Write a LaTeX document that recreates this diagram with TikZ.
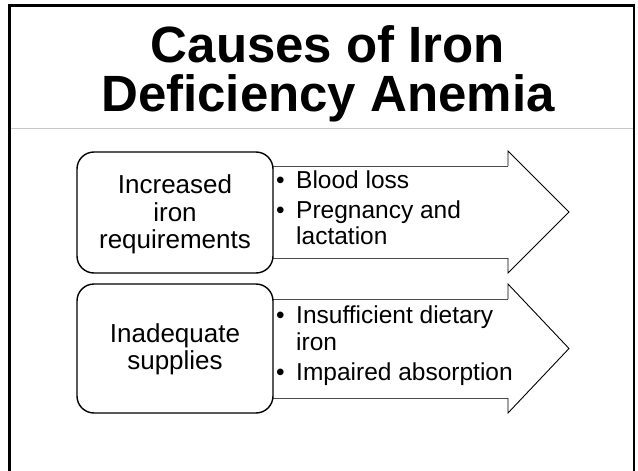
\documentclass[tikz,border=0pt]{standalone}
\usepackage{fontspec}
\setmainfont{Liberation Sans}
\begin{document}
\begin{tikzpicture}[x=1pt,y=-1pt,
  framesty/.style={line width=2.6pt},
  seprule/.style={draw=black!22, line width=1pt},
  boxsty/.style={draw, line width=1.4pt, fill=white, rounded corners=17pt, inner sep=0pt},
  arrowfill/.style={fill=white},
  arrowbody/.style={draw=black!70, line width=0.9pt},
  arrowhead/.style={draw=black, line width=0.9pt, line join=miter},
  titlesty/.style={font=\fontsize{51}{49}\selectfont\bfseries, anchor=base, inner sep=0pt},
  boxtext/.style={font=\fontsize{26}{27}\selectfont, anchor=base, inner sep=0pt},
  bullettext/.style={font=\fontsize{24.5}{26}\selectfont, anchor=base west, inner sep=0pt},
]
\useasboundingbox (0,0) rectangle (638,471);
% frame and separator
\draw[framesty] (9.5,480) -- (9.5,5.5) -- (634,5.5) -- (634,480);
\draw[seprule] (11,128.5) -- (632.5,128.5);
% title
\node[titlesty] (t1) at (328,62) {Causes of Iron};
\node[titlesty] (t2) at (328,111) {Deficiency Anemia};
% arrow 1
\fill[arrowfill] (250,166) -- (508,166) -- (508,151) -- (569,212) -- (508,273) -- (508,258) -- (250,258) -- cycle;
\draw[arrowbody] (250,166) -- (508,166);
\draw[arrowbody] (250,258) -- (508,258);
\draw[arrowhead] (508,166) -- (508,151) -- (569,212) -- (508,273) -- (508,258);
% arrow 2
\fill[arrowfill] (250,299) -- (508,299) -- (508,284) -- (569,348.5) -- (508,413) -- (508,398) -- (250,398) -- cycle;
\draw[arrowbody] (250,299) -- (508,299);
\draw[arrowbody] (250,398) -- (508,398);
\draw[arrowhead] (508,299) -- (508,284) -- (569,348.5) -- (508,413) -- (508,398);
% boxes
\node[boxsty, minimum width=196pt, minimum height=121pt] (box1) at (175,212.5) {};
\node[boxsty, minimum width=196pt, minimum height=129pt] (box2) at (175,348.5) {};
% box texts
\node[boxtext] (b1a) at (175,193) {Increased};
\node[boxtext] (b1b) at (175,221) {iron};
\node[boxtext] (b1c) at (175,248) {requirements};
\node[boxtext] (b2a) at (175,342) {Inadequate};
\node[boxtext] (b2b) at (175,369) {supplies};
% bullets arrow 1
\node[bullettext] (d1) at (276,188) {•};
\node[bullettext] (l1) at (296,188) {Blood loss};
\node[bullettext] (d2) at (276,218) {•};
\node[bullettext] (l2) at (296,218) {Pregnancy and};
\node[bullettext] (l3) at (296,244) {lactation};
% bullets arrow 2
\node[bullettext] (d3) at (276,323) {•};
\node[bullettext] (l4) at (296,323) {Insufficient dietary};
\node[bullettext] (l5) at (296,350) {iron};
\node[bullettext] (d4) at (276,380) {•};
\node[bullettext] (l6) at (296,380) {Impaired absorption};
\end{tikzpicture}
\end{document}
